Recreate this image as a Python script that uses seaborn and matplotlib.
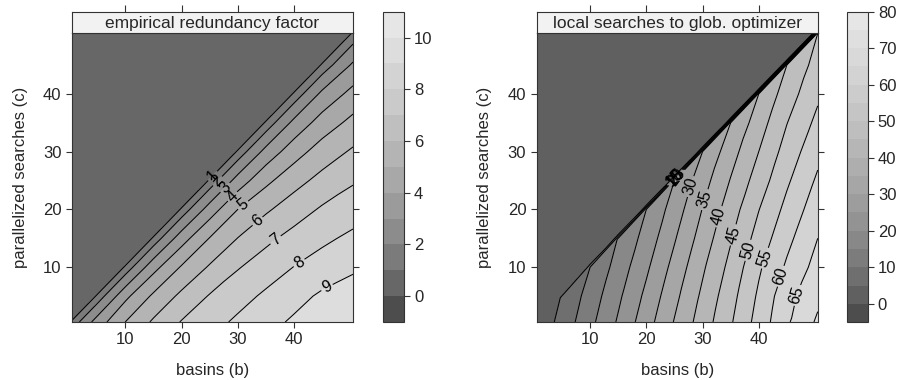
import numpy as np
import matplotlib
matplotlib.use("Agg")
import matplotlib.pyplot as plt
import matplotlib.tri as mtri
import seaborn as sns

sns.set_style("white")
plt.rcParams['font.family'] = ['Liberation Sans', 'DejaVu Sans']
plt.rcParams['xtick.bottom'] = True
plt.rcParams['ytick.left'] = True
plt.rcParams['xtick.major.size'] = 4.5
plt.rcParams['ytick.major.size'] = 4.5

# sample positions, panel edge to panel edge: basins (b) and parallelized searches (c)
b_nodes = [0.5, 5, 10, 15, 20, 25, 30, 35, 40, 45, 50.5]
c_nodes = [0.5, 5, 10, 15, 20, 25, 30, 35, 40, 45, 50.5]

# values, one row per c, each row starts on the diagonal b == c
redundancy_rows = [
    [1.4, 3.47, 5.01, 6.15, 7.06, 7.63, 8.18, 8.67, 9.15, 9.6, 9.9],
    [1.4, 3.75, 5.18, 6.23, 7.07, 7.63, 8.17, 8.66, 9.16, 9.55],
    [1.4, 3.66, 5.1, 6.11, 6.93, 7.49, 8.02, 8.4, 8.82],
    [1.4, 3.56, 5.04, 6.02, 6.77, 7.33, 7.81, 8.2],
    [1.4, 3.47, 5.0, 5.85, 6.53, 7.12, 7.58],
    [1.4, 3.42, 4.76, 5.64, 6.31, 6.89],
    [1.4, 3.34, 4.57, 5.46, 6.14],
    [1.4, 3.28, 4.44, 5.29],
    [1.4, 3.24, 4.33],
    [1.4, 3.17],
    [1.4],
]
optimizer_rows = [
    [1.0, 6.76, 13.68, 20.59, 27.86, 35.29, 42.36, 49.43, 56.97, 64.3, 70.8],
    [5.3, 12.16, 19.04, 26.18, 33.64, 40.97, 48.18, 55.81, 63.28, 68.8],
    [10.0, 17.12, 24.12, 31.67, 39.24, 46.45, 54.24, 60.76, 66.85],
    [15.2, 22.0, 29.53, 37.19, 44.57, 52.03, 58.59, 65.0],
    [20.0, 27.34, 35.16, 42.57, 49.85, 56.41, 62.9],
    [25.0, 32.88, 40.28, 47.35, 54.21, 60.8],
    [30.0, 37.92, 45.0, 52.05, 58.6],
    [35.0, 42.65, 49.86, 56.3],
    [40.0, 47.5, 54.1],
    [45.0, 52.1],
    [50.0],
]
# above the diagonal (c > b) both surfaces are 0
upper_value = 0.0

redundancy_levels = list(range(-1, 12))
optimizer_levels = list(range(-5, 85, 5))
redundancy_lines = list(range(1, 11))
optimizer_lines = list(range(5, 80, 5))
redundancy_ticks = [0, 2, 4, 6, 8, 10]
optimizer_ticks = [0, 10, 20, 30, 40, 50, 60, 70, 80]
axis_ticks = [10, 20, 30, 40]

redundancy_title = "empirical redundancy factor"
optimizer_title = "local searches to glob. optimizer"

# where the contour labels sit
redundancy_label_spots = {1: (25.0, 26.3), 2: (25.8, 25.5), 3: (26.8, 24.7), 4: (28.5, 22.8),
                          5: (30.9, 20.8), 6: (33.4, 18.1), 7: (36.5, 15.0), 8: (40.8, 10.9),
                          9: (45.7, 6.8)}
optimizer_label_spots = {10: (24.6, 26.0), 15: (24.6, 26.0), 20: (24.8, 26.0), 25: (25.0, 26.0),
                         30: (27.75, 24.0), 35: (30.4, 21.7), 40: (32.7, 18.8), 45: (35.4, 15.6),
                         50: (37.8, 13.0), 55: (41.0, 11.6), 60: (44.0, 8.4), 65: (45.8, 5.5)}

FRAME = '#333333'
FS = 12


def gray_ramp(n, start=0.3, end=0.9, gamma=2.2):
    v = np.linspace(start ** gamma, end ** gamma, n) ** (1 / gamma)
    return [(g, g, g) for g in v]


def surface(rows, strip=1.0):
    # lower triangle of the grid plus a one-unit strip where the value drops to 0
    n = len(b_nodes)
    xs, ys, zs, node = [], [], [], {}
    for j, row in enumerate(rows):
        for k, v in enumerate(row):
            node[j + k, j] = len(xs)
            xs.append(b_nodes[j + k]); ys.append(c_nodes[j]); zs.append(v)
    for i in range(n):
        node[i, 'top'] = len(xs)
        xs.append(b_nodes[i]); ys.append(c_nodes[i] + strip); zs.append(upper_value)
    tris = []
    for j in range(n - 1):
        for i in range(j, n - 1):
            tris.append([node[i, j], node[i + 1, j], node[i + 1, j + 1]])
            if i > j:
                tris.append([node[i, j], node[i + 1, j + 1], node[i, j + 1]])
    for i in range(n - 1):
        tris.append([node[i, i], node[i + 1, i + 1], node[i + 1, 'top']])
        tris.append([node[i, i], node[i + 1, 'top'], node[i, 'top']])
    return mtri.Triangulation(xs, ys, tris), np.array(zs)


def panel(fig, x0, cbar_x0, rows, levels, lines, cticks, title, spots):
    ax = fig.add_axes([x0, 0.1526, 0.3119, 0.7597])
    sx = fig.add_axes([x0, 0.9124, 0.3119, 0.0568])
    cax = fig.add_axes([cbar_x0, 0.1526, 0.0238, 0.8166])

    tri, z = surface(rows)
    colors = gray_ramp(len(levels) - 1)
    shifted = np.array(levels, float) - 1e-6
    ax.set_facecolor(colors[levels.index(0)])
    cf = ax.tricontourf(tri, z, levels=shifted, colors=colors)

    ax.set_xlim(0.5, 50.5)
    ax.set_ylim(0.5, 50.5)
    ax.set_xticks(axis_ticks)
    ax.set_yticks(axis_ticks)
    ax.tick_params(direction='out', length=4.5, width=0.8, color=FRAME, labelsize=FS,
                   bottom=True, left=True, top=False, right=True, labelright=False, pad=3)
    ax.set_xlabel("basins (b)", fontsize=FS, labelpad=11)
    ax.set_ylabel("parallelized searches (c)", fontsize=FS, labelpad=11)
    for s in ax.spines.values():
        s.set_color(FRAME); s.set_linewidth(0.8)

    # one contour set per level so each label goes on its own line
    for lev in lines:
        if z.max() < lev:
            continue
        cs = ax.tricontour(tri, z, levels=[float(lev)], colors='black', linewidths=0.75)
        if lev in spots:
            ax.clabel(cs, manual=[spots[lev]], inline=True, inline_spacing=2,
                      fontsize=11.5, fmt='%d', colors='black')

    sx.set_facecolor('#f2f2f2')
    sx.set_xlim(0.5, 50.5)
    sx.set_ylim(0, 1)
    sx.set_xticks(axis_ticks)
    sx.set_yticks([])
    sx.xaxis.set_ticks_position('top')
    sx.tick_params(axis='x', which='major', direction='out', length=5, width=0.8, color=FRAME,
                   top=True, bottom=False, labeltop=False, labelbottom=False)
    for s in sx.spines.values():
        s.set_color(FRAME); s.set_linewidth(0.8)
    sx.text(0.5, 0.45, title, transform=sx.transAxes, ha='center', va='center', fontsize=12.5)

    cb = fig.colorbar(cf, cax=cax, ticks=cticks)
    cb.ax.set_yticklabels([str(t) for t in cticks])
    cb.outline.set_edgecolor(FRAME)
    cb.outline.set_linewidth(0.8)
    cax.tick_params(axis='y', direction='out', length=4, width=0.8, color=FRAME, labelsize=FS,
                    pad=3, right=True, left=False)


fig = plt.figure(figsize=(9.01, 3.8), dpi=100)
panel(fig, 0.0799, 0.4248, redundancy_rows, redundancy_levels, redundancy_lines,
      redundancy_ticks, redundancy_title, redundancy_label_spots)
panel(fig, 0.5957, 0.9397, optimizer_rows, optimizer_levels, optimizer_lines,
      optimizer_ticks, optimizer_title, optimizer_label_spots)
fig.savefig("out.png", dpi=100)
